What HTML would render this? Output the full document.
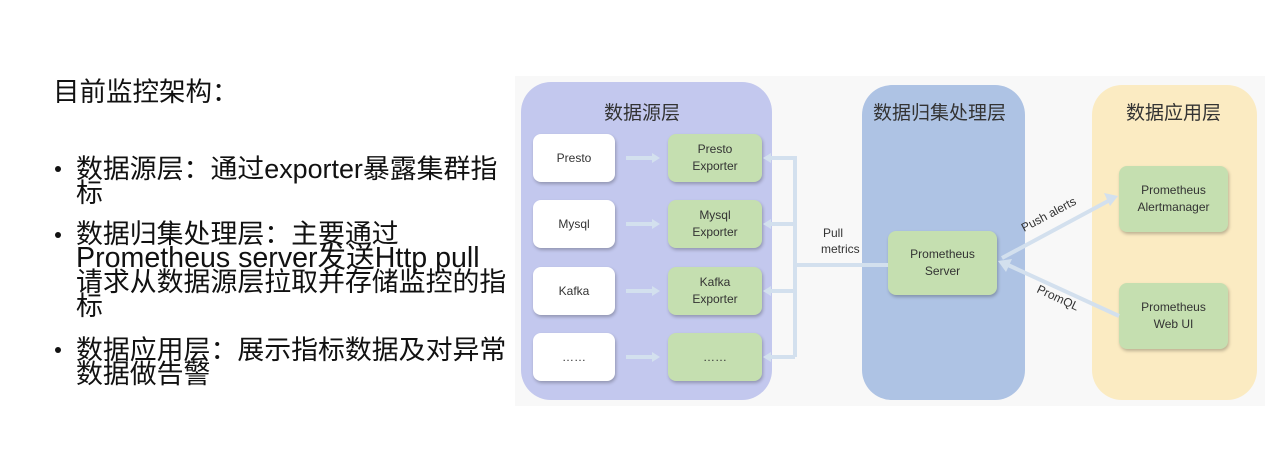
<!DOCTYPE html>
<html><head><meta charset="utf-8"><style>
body{margin:0;width:1265px;height:458px;background:#fff;position:relative;overflow:hidden;font-family:"Liberation Sans","Noto Sans CJK SC",sans-serif;}
.t{position:absolute;white-space:nowrap;color:#111;font-size:26.9px;line-height:24px;}
.b{position:absolute;width:6px;height:6px;border-radius:3px;background:#111;}
.p{position:absolute;border-radius:30px;}
.n{position:absolute;border-radius:8px;display:flex;align-items:center;justify-content:center;text-align:center;font-size:12px;line-height:17px;color:#333;box-shadow:1px 2px 3px rgba(0,0,0,.25);}
.w{background:#fff;}
.g{background:#c5dfb0;}
.h{position:absolute;font-size:19px;color:#333;white-space:nowrap;}
</style></head><body>
<div class="t" style="left:53px;top:80px;font-size:26.5px">目前监控架构：</div>
<div class="b" style="left:55px;top:166px"></div>
<div class="t" style="left:76px;top:157px">数据源层：通过exporter暴露集群指</div>
<div class="t" style="left:76px;top:181px">标</div>
<div class="b" style="left:55px;top:232px"></div>
<div class="t" style="left:76px;top:222px">数据归集处理层：主要通过</div>
<div class="t" style="left:76px;top:246px;font-size:28.6px">Prometheus server发送Http pull</div>
<div class="t" style="left:76px;top:270px">请求从数据源层拉取并存储监控的指</div>
<div class="t" style="left:76px;top:294px">标</div>
<div class="b" style="left:55px;top:347px"></div>
<div class="t" style="left:76px;top:338px">数据应用层：展示指标数据及对异常</div>
<div class="t" style="left:76px;top:362px">数据做告警</div>

<div style="position:absolute;left:515px;top:76px;width:750px;height:330px;background:#f8f8f8"></div>
<div class="p" style="left:521px;top:82px;width:251px;height:318px;background:#c3c8ee"></div>
<div class="p" style="left:862px;top:85px;width:163px;height:315px;background:#aec3e4"></div>
<div class="p" style="left:1092px;top:85px;width:165px;height:315px;background:#fbebc2"></div>
<div class="h" style="left:604px;top:98px">数据源层</div>
<div class="h" style="left:873px;top:98px">数据归集处理层</div>
<div class="h" style="left:1126px;top:98px">数据应用层</div>

<div class="n w" style="left:533px;top:134px;width:82px;height:48px">Presto</div>
<div class="n w" style="left:533px;top:200px;width:82px;height:48px">Mysql</div>
<div class="n w" style="left:533px;top:267px;width:82px;height:48px">Kafka</div>
<div class="n w" style="left:533px;top:333px;width:82px;height:48px">……</div>
<div class="n g" style="left:668px;top:134px;width:94px;height:48px">Presto<br>Exporter</div>
<div class="n g" style="left:668px;top:200px;width:94px;height:48px">Mysql<br>Exporter</div>
<div class="n g" style="left:668px;top:267px;width:94px;height:48px">Kafka<br>Exporter</div>
<div class="n g" style="left:668px;top:333px;width:94px;height:48px">……</div>
<div class="n g" style="left:888px;top:231px;width:109px;height:64px">Prometheus<br>Server</div>
<div class="n g" style="left:1119px;top:166px;width:109px;height:66px">Prometheus<br>Alertmanager</div>
<div class="n g" style="left:1119px;top:283px;width:109px;height:66px">Prometheus<br>Web UI</div>

<svg style="position:absolute;left:0;top:0" width="1265" height="458">
<g stroke="#d3e0ee" stroke-width="4" fill="none">
<line x1="626" y1="158" x2="652" y2="158"/><line x1="626" y1="224" x2="652" y2="224"/>
<line x1="626" y1="291" x2="652" y2="291"/><line x1="626" y1="357" x2="652" y2="357"/>
<line x1="795" y1="156" x2="795" y2="357"/>
<line x1="770" y1="158" x2="795" y2="158"/><line x1="770" y1="224" x2="795" y2="224"/>
<line x1="770" y1="291" x2="795" y2="291"/><line x1="770" y1="357" x2="795" y2="357"/>
<line x1="795" y1="265" x2="888" y2="265"/>
<line x1="1002" y1="258" x2="1110" y2="200"/>
<line x1="1008" y1="265" x2="1119" y2="316"/>
</g>
<g fill="#d3e0ee">
<polygon points="652,153 660,158 652,163"/><polygon points="652,219 660,224 652,229"/>
<polygon points="652,286 660,291 652,296"/><polygon points="652,352 660,357 652,362"/>
<polygon points="763,158 771,153 771,163"/><polygon points="763,224 771,219 771,229"/>
<polygon points="763,291 771,286 771,296"/><polygon points="763,357 771,352 771,362"/>
<polygon points="1118,196 1104,193 1110,206"/>
<polygon points="998,261 1012,259 1006,272"/>
</g>
<text x="823" y="237" font-size="12" fill="#333" font-family="Liberation Sans">Pull</text>
<text x="821" y="253" font-size="12" fill="#333" font-family="Liberation Sans">metrics</text>
<text x="1024" y="232" font-size="12" fill="#333" font-family="Liberation Sans" transform="rotate(-28 1024 232)">Push alerts</text>
<text x="1036" y="292" font-size="12" fill="#333" font-family="Liberation Sans" transform="rotate(25 1036 292)">PromQL</text>
</svg>
</body></html>
